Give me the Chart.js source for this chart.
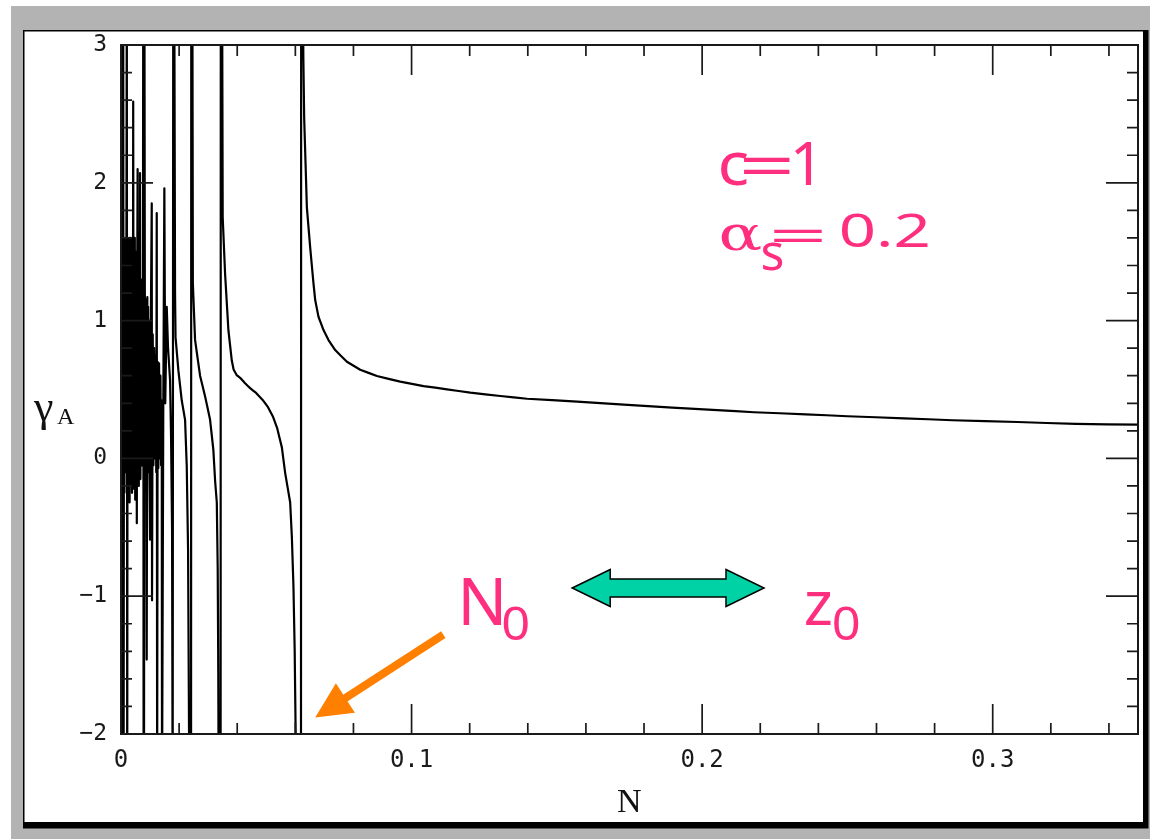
<!DOCTYPE html>
<html><head><meta charset="utf-8">
<script src="https://cdn.jsdelivr.net/npm/chart.js@4.4.0/dist/chart.umd.min.js"></script>
<style>html,body{margin:0;padding:0;background:#fff;}canvas{display:block;}</style>
</head><body>
<canvas id="c" width="1150" height="839"></canvas>
<script>
// ---- data (N, gamma_A) ----
// dense oscillating region near N = 0
const nDense = [0.00007,0.00021,0.00034,0.00048,0.00062,0.00076,0.00090,0.00103,0.00117,0.00131,
0.00145,0.00158,0.00172,0.00186,0.00200,0.00214,0.00227,0.00241,0.00255,0.00269,
0.00282,0.00296,0.00310,0.00324,0.00337,0.00351,0.00365,0.00379,0.00393,0.00406,
0.00420,0.00434,0.00448,0.00461,0.00475,0.00489,0.00503,0.00517,0.00530,0.00544,
0.00558,0.00572,0.00585,0.00599,0.00613,0.00627,0.00641,0.00654,0.00668,0.00682,
0.00696,0.00709,0.00723,0.00737,0.00751,0.00765,0.00778,0.00792,0.00806,0.00820];
const gDense = [3.5,-2.5,1.6,-0.2,1.5,3.5,-2.5,1.6,-0.25,1.55,
-0.1,1.6,0.0,1.45,3.5,-2.5,1.6,-0.2,1.5,-0.15,
1.6,-0.32,1.55,-0.1,1.6,-0.2,1.4,-0.25,1.6,-0.1,
2.59,-0.22,1.5,0.0,1.6,-0.3,1.45,-0.1,1.5,-0.47,
1.3,2.1,-0.1,1.25,-0.2,1.3,0.0,2.07,-0.15,1.3,
0.1,1.25,-0.05,1.2,0.0,3.5,-2.5,-2.5,3.5,1.2];
// sparser oscillations
const nSparse = [0.00837,0.00861,0.00885,0.00906,0.00920,0.00933,0.00947,0.00961,0.00978,0.00999,
0.01027,0.01058,0.01068,0.01092,0.01116,0.01140,0.01164,0.01188,0.01213,0.01230,
0.01244,0.01261,0.01285,0.01309,0.01333,0.01357,0.01378,0.01402,0.01412,0.01454,
0.01492,0.01523,0.01574,0.01619,0.01688,0.01722,0.01757,0.01778];
const gSparse = [0.0,1.15,-1.46,1.17,0.0,1.1,-0.1,1.0,0.0,-0.59,
1.0,1.85,-1.03,0.9,-0.05,0.8,0.0,0.75,-0.1,1.78,
-2.5,0.7,-0.07,0.69,0.0,0.6,-0.05,0.42,-2.5,0.3,
1.96,0.4,1.10,0.8,0.57,0.17,-0.5,-2.5];
// branch between poles N~0.018 and N~0.024
const nBranch1 = [0.01798,0.01833,0.01860,0.01877,0.01974,0.02091,0.02205,0.02263,0.02308,0.02342,0.02360,0.02411];
const gBranch1 = [3.5,3.5,1.2,0.88,0.64,0.42,0.28,-0.06,-0.66,-2.0,-2.5,-2.5];
// branch between poles N~0.024 and N~0.034
const nBranch2 = [0.02418,0.02456,0.02473,0.02549,0.02721,0.02894,0.03066,0.03179,0.03238,0.03297,0.03328,0.03348,0.03362,0.03428];
const gBranch2 = [3.5,3.5,1.27,0.86,0.60,0.45,0.28,0.06,-0.16,-0.32,-0.8,-1.55,-2.5,-2.5];
// branch between poles N~0.034 and N0~0.062
const nBranch3 = [0.03434,0.03479,0.03500,0.03582,0.03696,0.03813,0.03875,0.03979,0.04099,0.04271,
0.04444,0.04650,0.04892,0.05064,0.05236,0.05374,0.05536,0.05649,0.05822,0.05880,
0.05935,0.05977,0.06011,0.06045,0.06194];
const gBranch3 = [3.5,3.5,1.75,1.34,0.93,0.71,0.645,0.605,0.585,0.545,
0.51,0.475,0.42,0.37,0.30,0.22,0.08,-0.105,-0.32,-0.57,
-0.93,-1.39,-2.0,-2.5,-2.5];
// smooth branch beyond N0
const nTail = [0.06200,0.06252,0.06276,0.06304,0.06397,0.06511,0.06624,0.06683,0.06796,0.06969,
0.07141,0.07372,0.07775,0.08233,0.08808,0.09611,0.10413,0.11219,0.12022,0.13056,
0.13975,0.15698,0.17303,0.18970,0.20520,0.21781,0.23562,0.24998,0.26948,0.28615,
0.30854,0.32862,0.35000];
const gTail = [3.5,3.5,2.9,2.47,1.82,1.53,1.27,1.149,1.028,0.931,
0.859,0.786,0.701,0.643,0.598,0.557,0.525,0.501,0.477,0.453,
0.433,0.412,0.390,0.368,0.351,0.335,0.320,0.306,0.291,0.277,
0.264,0.250,0.245];

const xTickValues = [0, 0.1, 0.2, 0.3];
const xTickLabels = ['0', '0.1', '0.2', '0.3'];
const yTickValues = [-2, -1, 0, 1, 2, 3];
const yTickLabels = ['\u22122', '\u22121', '0', '1', '2', '3'];
const xTitle = 'N';
const yTitle = ['\u03B3', 'A'];

const N_values = [].concat(nDense, nSparse, nBranch1, nBranch2, nBranch3, nTail);
const gammaA = [].concat(gDense, gSparse, gBranch1, gBranch2, gBranch3, gTail);

// ---- decorations ----
const pageFrame = {
  id: 'pageFrame',
  beforeDraw(chart) {
    const ctx = chart.ctx; ctx.save();
    ctx.fillStyle = '#ffffff'; ctx.fillRect(0, 0, 1150, 839);
    ctx.fillStyle = '#b3b3b3'; ctx.fillRect(11, 6, 1139, 833);
    ctx.fillStyle = '#000000'; ctx.fillRect(23, 30, 1125.5, 798.5);
    ctx.fillStyle = '#ffffff'; ctx.fillRect(24.5, 31.5, 1118.5, 790.5);
    ctx.restore();
  }
};

const axesFrame = {
  id: 'axesFrame',
  afterDatasetsDraw(chart) {
    const { ctx, chartArea: a, scales: { x, y } } = chart;
    ctx.save();
    ctx.strokeStyle = '#1a1a1a';
    ctx.lineWidth = 1.7;
    ctx.beginPath();
    for (let k = 0; k <= 17; k++) {
      const px = x.getPixelForValue(k * 0.02);
      const L = (k % 5 === 0) ? 30 : 11;
      ctx.moveTo(px, a.bottom); ctx.lineTo(px, a.bottom - L);
      ctx.moveTo(px, a.top); ctx.lineTo(px, a.top + L);
    }
    for (let k = 0; k <= 25; k++) {
      const py = y.getPixelForValue(-2 + k * 0.2);
      const L = (k % 5 === 0) ? 32 : 11;
      ctx.moveTo(a.left, py); ctx.lineTo(a.left + L, py);
      ctx.moveTo(a.right, py); ctx.lineTo(a.right - L, py);
    }
    ctx.stroke();
    ctx.lineWidth = 2;
    ctx.strokeRect(a.left, a.top, a.right - a.left, a.bottom - a.top);
    ctx.restore();
  }
};

function drawText(ctx, s, px, py, font, color, sx) {
  ctx.save();
  ctx.font = font; ctx.fillStyle = color;
  ctx.textAlign = 'left'; ctx.textBaseline = 'alphabetic';
  ctx.translate(px, py); ctx.scale(sx || 1, 1);
  ctx.fillText(s, 0, 0);
  ctx.restore();
}

const PINK = '#ff2f7f';
const annotations = {
  id: 'annotations',
  afterDraw(chart) {
    const { ctx, chartArea: a, scales: { x, y } } = chart;
    const X = v => x.getPixelForValue(v), Y = v => y.getPixelForValue(v);
    // axis titles
    drawText(ctx, yTitle[0], a.left - 87, a.top + 376, '44px "Liberation Serif"', '#111');
    drawText(ctx, yTitle[1], a.left - 64, a.top + 379, '24px "Liberation Serif"', '#111');
    drawText(ctx, xTitle, 617, 812, '34px "Liberation Serif"', '#111');
    // pink labels
    const sans = '"Noto Sans", sans-serif';
    drawText(ctx, 'c', X(0.20531), Y(1.982), '60px ' + sans, PINK, 1.1);
    drawText(ctx, '=', X(0.21254), Y(1.967), '60px ' + sans, PINK, 1.65);
    drawText(ctx, '1', X(0.23011), Y(1.982), '60px ' + sans, PINK);
    drawText(ctx, '\u03B1', X(0.20565), Y(1.511), '48px "DejaVu Serif"', PINK, 1.35);
    drawText(ctx, 's', X(0.22012), Y(1.366), '50px ' + sans, PINK);
    drawText(ctx, '=', X(0.22287), Y(1.496), '45px ' + sans, PINK, 2.3);
    drawText(ctx, '0.2', X(0.24699), Y(1.533), '45px ' + sans, PINK, 1.45);
    drawText(ctx, 'N', X(0.11574), Y(-1.2065), '66px ' + sans, PINK);
    drawText(ctx, '0', X(0.13090), Y(-1.3152), '46px ' + sans, PINK, 1.1);
    drawText(ctx, 'z', X(0.23493), Y(-1.2065), '62px ' + sans, PINK);
    drawText(ctx, '0', X(0.24458), Y(-1.3152), '46px ' + sans, PINK, 1.1);

    // green double arrow
    const xl = X(0.15528), xr = X(0.22129), yc = Y(-0.9406);
    const hl = 38, hh = 18.5, sh = 9;
    ctx.save();
    ctx.beginPath();
    ctx.moveTo(xl, yc);
    ctx.lineTo(xl + hl, yc - hh); ctx.lineTo(xl + hl, yc - sh);
    ctx.lineTo(xr - hl, yc - sh); ctx.lineTo(xr - hl, yc - hh);
    ctx.lineTo(xr, yc);
    ctx.lineTo(xr - hl, yc + hh); ctx.lineTo(xr - hl, yc + sh);
    ctx.lineTo(xl + hl, yc + sh); ctx.lineTo(xl + hl, yc + hh);
    ctx.closePath();
    ctx.fillStyle = '#00d2a6'; ctx.fill();
    ctx.lineWidth = 1.5; ctx.strokeStyle = '#000'; ctx.lineJoin = 'miter'; ctx.stroke();
    ctx.restore();

    // orange arrow
    const tx = X(0.11092), ty = Y(-1.2790), hx = X(0.06683), hy = Y(-1.8804);
    const dx = hx - tx, dy = hy - ty, len = Math.hypot(dx, dy);
    const ux = dx / len, uy = dy / len, nx = -uy, ny = ux;
    const headL = 36, headW = 17.5;
    const bx = hx - ux * headL, by = hy - uy * headL;
    ctx.save();
    ctx.strokeStyle = '#ff8000'; ctx.lineWidth = 8; ctx.lineCap = 'butt';
    ctx.beginPath(); ctx.moveTo(tx, ty); ctx.lineTo(bx + ux * 2, by + uy * 2); ctx.stroke();
    ctx.fillStyle = '#ff8000';
    ctx.beginPath(); ctx.moveTo(hx, hy);
    ctx.lineTo(bx + nx * headW, by + ny * headW);
    ctx.lineTo(bx - nx * headW, by - ny * headW);
    ctx.closePath(); ctx.fill();
    ctx.restore();
  }
};

const points = N_values.map((n, i) => ({ x: n, y: gammaA[i] }));

new Chart(document.getElementById('c'), {
  type: 'scatter',
  data: { datasets: [{
    data: points, showLine: true, borderColor: '#000', borderWidth: 2.2,
    pointRadius: 0, pointHoverRadius: 0, tension: 0.0001, fill: false,
    borderJoinStyle: 'round'
  }] },
  options: {
    responsive: false, animation: false, devicePixelRatio: 1,
    layout: { padding: { left: 0, right: 12, top: 45, bottom: 0 } },
    plugins: { legend: { display: false }, tooltip: { enabled: false }, title: { display: false } },
    scales: {
      x: {
        type: 'linear', min: 0, max: 0.35,
        afterBuildTicks(s) { s.ticks = xTickValues.map(v => ({ value: v })); },
        afterFit(s) { s.height = 105; },
        grid: { display: false, drawTicks: false }, border: { display: false },
        ticks: {
          autoSkip: false, maxRotation: 0, padding: 12, color: '#1a1a1a',
          font: { family: '"DejaVu Sans Mono"', size: 24 },
          callback: v => xTickLabels[xTickValues.findIndex(t => Math.abs(t - v) < 1e-9)]
        }
      },
      y: {
        type: 'linear', min: -2, max: 3,
        afterBuildTicks(s) { s.ticks = yTickValues.map(v => ({ value: v })); },
        afterFit(s) { s.width = 121; },
        grid: { display: false, drawTicks: false }, border: { display: false },
        ticks: {
          autoSkip: false, padding: 14, color: '#1a1a1a',
          font: { family: '"DejaVu Sans Mono"', size: 23 },
          callback: v => yTickLabels[yTickValues.indexOf(v)]
        }
      }
    }
  },
  plugins: [pageFrame, axesFrame, annotations]
});
</script>
</body></html>
